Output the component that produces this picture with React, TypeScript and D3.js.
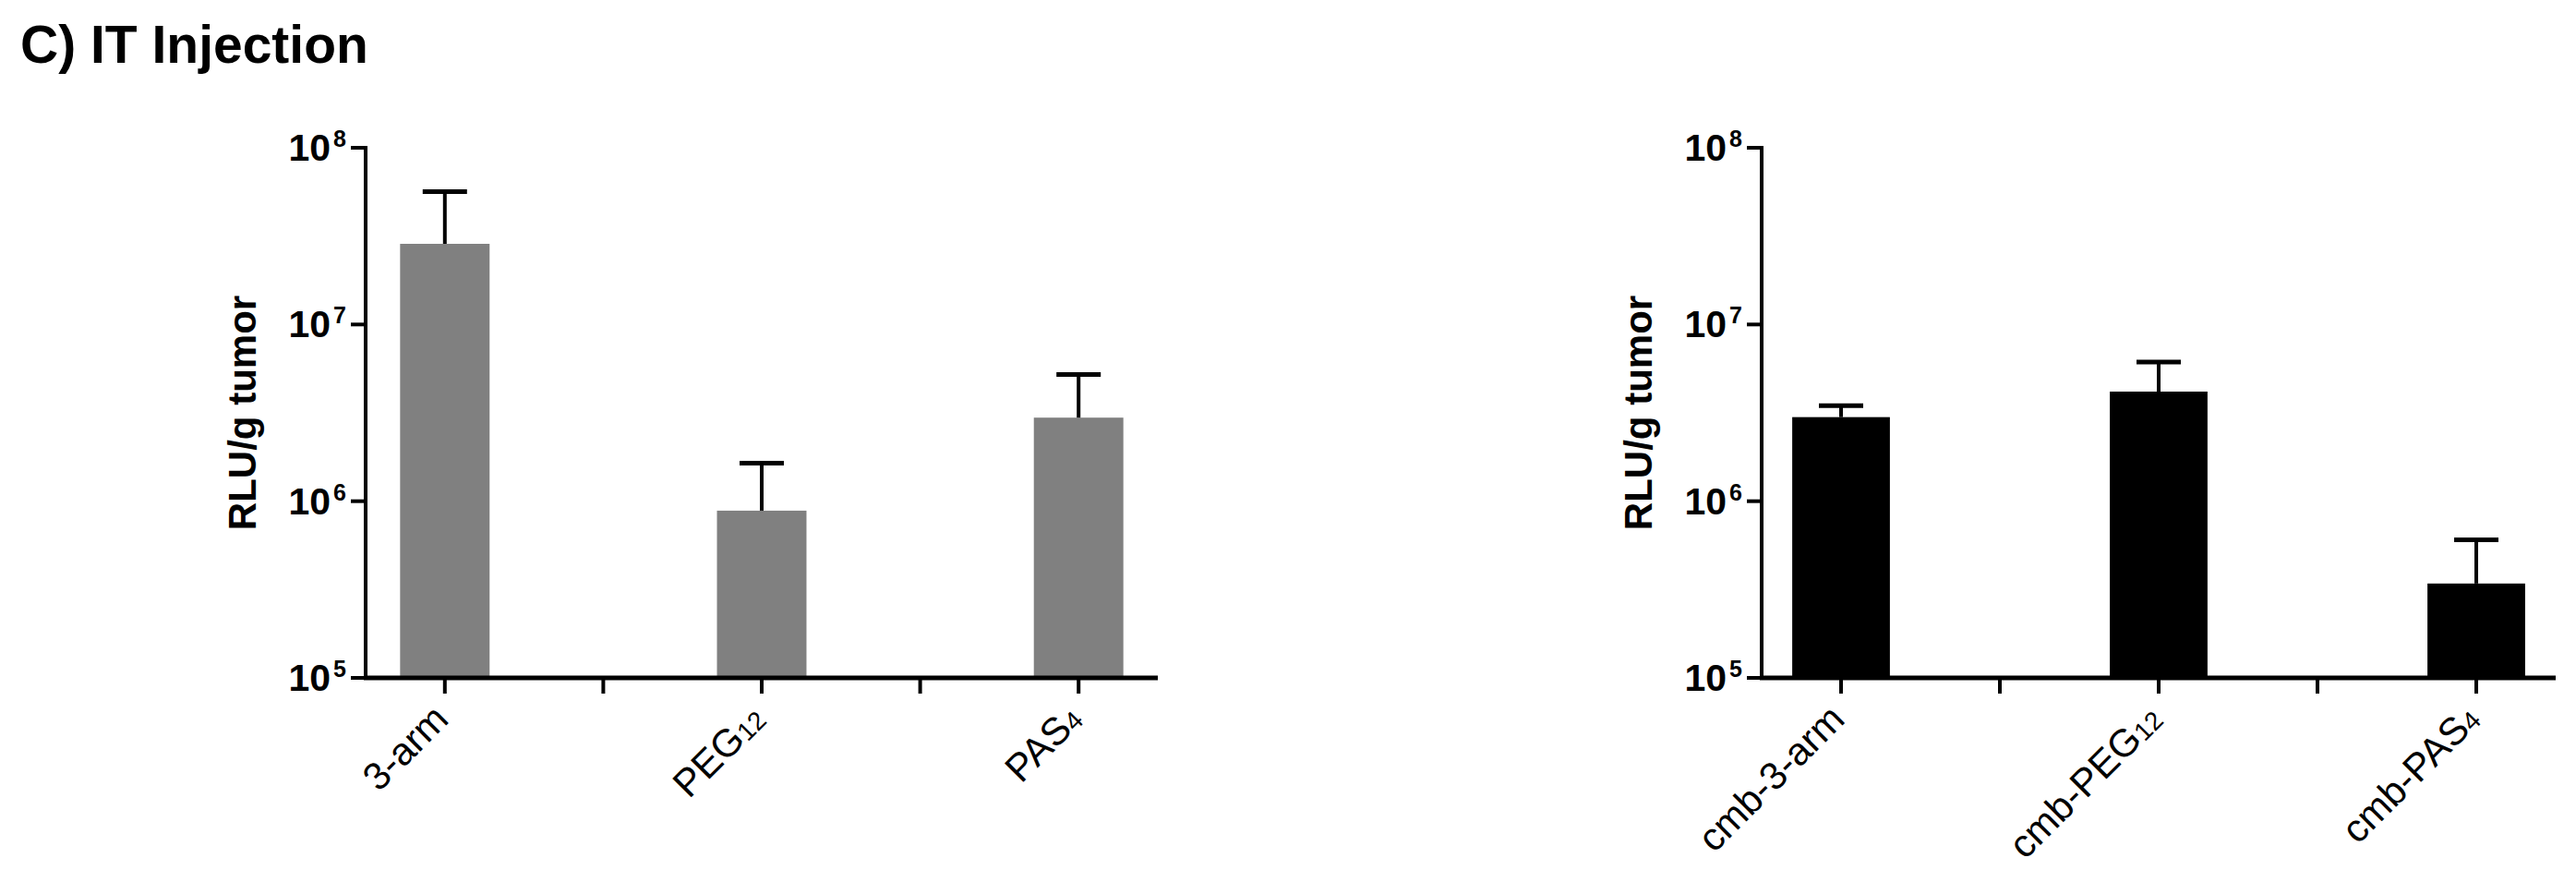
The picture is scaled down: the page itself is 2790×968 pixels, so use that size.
import React from 'react';
import * as d3 from 'd3';

const figureTitle = 'C) IT Injection';
const yAxisTitle = 'RLU/g tumor';
const yTickExponents = [5, 6, 7, 8];

// Left panel (gray): 5 slots, two empty spacer columns
const leftLabelBase = ['3-arm', '', 'PEG', '', 'PAS'];
const leftLabelSub = ['', '', '12', '', '4'];
const leftMeans = [2.86e7, null, 8.84e5, null, 2.97e6];
const leftSem = [2.79e7, null, 7.56e5, null, 2.24e6];

// Right panel (black)
const rightLabelBase = ['cmb-3-arm', '', 'cmb-PEG', '', 'cmb-PAS'];
const rightLabelSub = ['', '', '12', '', '4'];
const rightMeans = [2.99e6, null, 4.17e6, null, 3.42e5];
const rightSem = [4.8e5, null, 1.96e6, null, 2.62e5];

const FONT = "'Liberation Sans', Arial, Helvetica, sans-serif";

type PanelProps = {
  axisX: number;
  axisEnd: number;
  top: number;
  bottom: number;
  labelBase: string[];
  labelSub: string[];
  means: (number | null)[];
  sem: (number | null)[];
  fill: string;
  barFrac: number;
};

function Panel(p: PanelProps) {
  const idx = p.labelBase.map((_, i) => String(i));
  const x = d3.scaleBand<string>().domain(idx).range([p.axisX, p.axisEnd]).padding(0);
  const y = d3.scaleLog().domain([1e5, 1e8]).range([p.bottom, p.top]);
  const bw = x.bandwidth() * p.barFrac;
  const tickLen = 16;
  const capW = 48;
  return (
    <g>
      {p.means.map((m, i) => {
        if (m == null) return null;
        const cx = (x(String(i)) as number) + x.bandwidth() / 2;
        return (
          <rect key={'b' + i} x={cx - bw / 2} y={y(m)} width={bw} height={p.bottom - y(m)} fill={p.fill} />
        );
      })}
      {p.means.map((m, i) => {
        const s = p.sem[i];
        if (m == null || s == null) return null;
        const cx = (x(String(i)) as number) + x.bandwidth() / 2;
        const yt = y(m + s);
        return (
          <g key={'e' + i}>
            <line x1={cx} x2={cx} y1={y(m)} y2={yt} stroke="#000" strokeWidth={4} />
            <line x1={cx - capW / 2} x2={cx + capW / 2} y1={yt} y2={yt} stroke="#000" strokeWidth={5} />
          </g>
        );
      })}
      <line x1={p.axisX} x2={p.axisX} y1={p.top - 2} y2={p.bottom} stroke="#000" strokeWidth={4} />
      {yTickExponents.map((e) => {
        const ty = y(Math.pow(10, e));
        return (
          <g key={'yt' + e}>
            <line x1={p.axisX - tickLen} x2={p.axisX} y1={ty} y2={ty} stroke="#000" strokeWidth={4} />
            <text x={p.axisX - tickLen - 5} y={ty + 14} textAnchor="end" fontFamily={FONT} fontWeight="bold" fontSize={41} fill="#000">
              10
              <tspan fontSize={25} dx={3} dy={-15}>{e}</tspan>
            </text>
          </g>
        );
      })}
      <line x1={p.axisX - 2} x2={p.axisEnd} y1={p.bottom} y2={p.bottom} stroke="#000" strokeWidth={5} />
      {idx.map((k, i) => {
        const cx = (x(k) as number) + x.bandwidth() / 2;
        return (
          <g key={'xt' + i}>
            <line x1={cx} x2={cx} y1={p.bottom} y2={p.bottom + 17} stroke="#000" strokeWidth={4} />
            {p.labelBase[i] !== '' && (
              <text
                transform={`translate(${cx + 6},${p.bottom + 47}) rotate(-45)`}
                textAnchor="end"
                fontFamily={FONT}
                fontSize={42}
                fill="#000"
              >
                {p.labelBase[i]}
                {p.labelSub[i] !== '' && (
                  <tspan fontSize={28} dy={1}>{p.labelSub[i]}</tspan>
                )}
              </text>
            )}
          </g>
        );
      })}
      <text
        transform={`translate(${p.axisX - 119},${(p.top + p.bottom) / 2}) rotate(-90)`}
        textAnchor="middle"
        fontFamily={FONT}
        fontWeight="bold"
        fontSize={42}
        fill="#000"
      >
        {yAxisTitle}
      </text>
    </g>
  );
}

export default function App() {
  return (
    <svg
      width={2790}
      height={968}
      viewBox="0 0 2790 968"
      style={{ position: 'absolute', left: 0, top: 0, display: 'block', background: '#fff' }}
    >
      <rect x={0} y={0} width={2790} height={968} fill="#fff" />
      <text x={22} y={68} fontFamily={FONT} fontWeight="bold" fontSize={57} fill="#000">
        {figureTitle}
      </text>
      <Panel
        axisX={396}
        axisEnd={1254}
        top={160}
        bottom={734}
        labelBase={leftLabelBase}
        labelSub={leftLabelSub}
        means={leftMeans}
        sem={leftSem}
        fill="#808080"
        barFrac={0.565}
      />
      <Panel
        axisX={1908}
        axisEnd={2768}
        top={160}
        bottom={734}
        labelBase={rightLabelBase}
        labelSub={rightLabelSub}
        means={rightMeans}
        sem={rightSem}
        fill="#000"
        barFrac={0.615}
      />
    </svg>
  );
}
